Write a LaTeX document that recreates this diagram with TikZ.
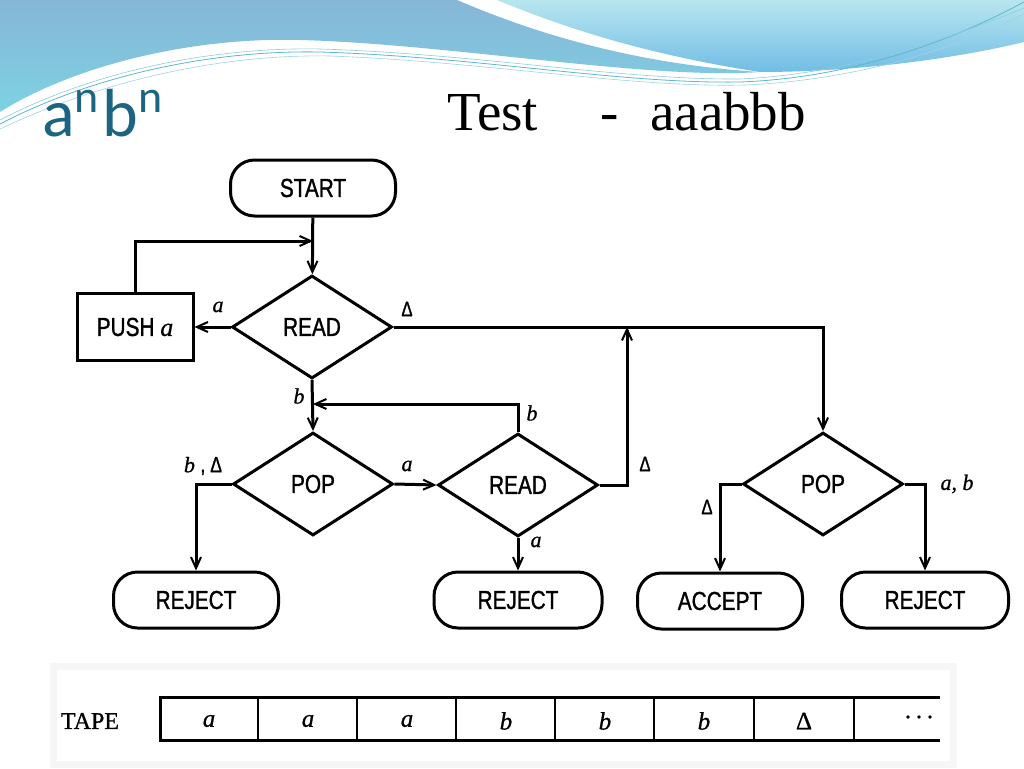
\documentclass[tikz,border=0pt]{standalone}
\usepackage{fontspec}
\setmainfont{Liberation Serif}
\newfontfamily\narrowsans[FakeStretch=0.8,FakeBold=1.2]{Liberation Sans}
\newfontfamily\boldserif[FakeBold=0.8]{Liberation Serif}
\newfontfamily\titlesans{Carlito}
\usetikzlibrary{shapes.geometric,arrows.meta}
\definecolor{wblue}{HTML}{86B6D6}
\definecolor{wcyan}{HTML}{7ED2E3}
\definecolor{wlight}{HTML}{B8E6EE}
\definecolor{wline}{HTML}{5CB8CC}
\definecolor{titleblue}{HTML}{1B6482}
\tikzset{
  flow/.style={line width=3pt},
  arr/.style={flow, -{Straight Barb[length=11pt,width=10pt,line width=2pt]}},
  term/.style={draw, flow, rounded corners=24pt, minimum width=165pt, minimum height=56pt, inner sep=0pt, font=\narrowsans\fontsize{26}{26}\selectfont},
  dec/.style={draw, flow, diamond, minimum width=160pt, minimum height=103pt, inner sep=0pt, font=\narrowsans\fontsize{26}{26}\selectfont},
  proc/.style={draw, flow, minimum width=116pt, minimum height=67pt, inner sep=0pt, font=\narrowsans\fontsize{26}{26}\selectfont},
  lbl/.style={font=\boldserif\fontsize{22}{22}\selectfont\itshape, inner sep=0pt},
  dlbl/.style={font=\narrowsans\fontsize{21}{21}\selectfont, inner sep=0pt},
  tapetxt/.style={font=\boldserif\fontsize{25}{25}\selectfont\itshape, inner sep=0pt}
}
\begin{document}
\begin{tikzpicture}[x=1pt,y=-1pt]
\useasboundingbox (0,0) rectangle (1024,768);
\fill[white] (0,0) rectangle (1024,768);
% header wave
\shade[top color=wblue, bottom color=wcyan]
  (0,0) -- (457,0) .. controls (550,40) and (650,65) .. (760,72)
  .. controls (650,80) and (450,44) .. (300,40)
  .. controls (200,37) and (80,62) .. (0,112) -- cycle;
\shade[top color=wlight, bottom color=wcyan!90!blue]
  (497,0) -- (1024,0) -- (1024,42) .. controls (950,60) and (850,72) .. (760,72)
  .. controls (650,55) and (570,30) .. (497,0) -- cycle;
\draw[wline, line width=0.8pt] (0,124) .. controls (100,72) and (220,50) .. (320,52)
  .. controls (480,57) and (620,84) .. (740,82) .. controls (850,78) and (950,42) .. (1024,2);
\draw[wline!70, line width=0.6pt] (0,120) .. controls (100,68) and (220,47) .. (320,49)
  .. controls (480,54) and (620,80) .. (740,79) .. controls (850,74) and (950,38) .. (1024,8);
\draw[wline!60, line width=0.6pt] (0,129) .. controls (110,77) and (230,54) .. (330,56)
  .. controls (490,62) and (630,88) .. (745,85) .. controls (860,80) and (960,47) .. (1024,14);
% titles
\node[anchor=base west, inner sep=0pt, text=titleblue, font=\titlesans\fontsize{68}{68}\selectfont] (title) at (42,136)
  {a\raisebox{24pt}{\fontsize{46}{46}\selectfont n}\hspace{4pt}b\raisebox{24pt}{\fontsize{46}{46}\selectfont n}};
\node[anchor=base west, inner sep=0pt, font=\fontsize{55}{55}\selectfont] (test) at (447,130) {Test};
\node[anchor=base west, inner sep=0pt, font=\fontsize{55}{55}\selectfont] (dash) at (600,130) {-};
\node[anchor=base west, inner sep=0pt, font=\fontsize{55}{55}\selectfont] (word) at (650,130) {aaabbb};
% flowchart nodes
\node[term] (start) at (313,188) {START};
\node[dec] (read1) at (312,327) {READ};
\node[proc] (push) at (135,327) {PUSH {\boldserif\itshape a}};
\node[dec] (pop1) at (313,484) {POP};
\node[dec] (read2) at (518,485) {READ};
\node[dec] (pop2) at (823,484) {POP};
\node[term] (rej1) at (196,600) {REJECT};
\node[term, minimum width=168pt] (rej2) at (518,600) {REJECT};
\node[term] (acc) at (720,601) {ACCEPT};
\node[term, minimum width=167pt] (rej3) at (925,600) {REJECT};
\coordinate (j1) at (313,241);
\coordinate (j2) at (627,327);
\coordinate (j3) at (313,404);
% connectors
\draw[arr] (start) -- (read1);
\draw[arr] (push.north) |- (j1);
\draw[arr] (read1.west) -- (push.east);
\draw[arr] (read1.south) -- (pop1.north);
\draw[arr] (read1.east) -| (pop2.north);
\draw[arr] (read2.east) -| (j2);
\draw[arr] (read2.north) |- (j3);
\draw[arr] (pop1.east) -- (read2.west);
\draw[arr] (pop1.west) -| (rej1.north);
\draw[arr] (read2.south) -- (rej2.north);
\draw[arr] (pop2.west) -| (acc.north);
\draw[arr] (pop2.east) -| (rej3.north);
% labels
\node[lbl] (la1) at (218,307) {a};
\node[dlbl] (ld1) at (407,309) {Δ};
\node[lbl] (lb1) at (299,396) {b};
\node[lbl] (lb2) at (532,413) {b};
\node[lbl] (lbd) at (203,466) {b \upshape{\narrowsans ,\ Δ}};
\node[lbl] (la2) at (407,466) {a};
\node[dlbl] (ld2) at (645,464) {Δ};
\node[lbl] (la3) at (536,542) {a};
\node[dlbl] (ld3) at (707,507) {Δ};
\node[lbl] (lab) at (957,484) {a, b};
% tape
\fill[gray!7] (50,663) rectangle (957,768);
\fill[white] (57,670) rectangle (950,761);
\node[inner sep=0pt, font=\boldserif\fontsize{24}{24}\selectfont] (tape) at (90,721) {TAPE};
\draw[flow] (940,697) -- (160,697) -- (160,740) -- (940,740);
\foreach \x in {258,357,456,555,654,754,854} \draw[line width=2.4pt] (\x,697) -- (\x,740);
\node[tapetxt] (c1) at (209,721) {a};
\node[tapetxt] (c2) at (308,721) {a};
\node[tapetxt] (c3) at (407,721) {a};
\node[tapetxt] (c4) at (506,721) {b};
\node[tapetxt] (c5) at (605,721) {b};
\node[tapetxt] (c6) at (704,721) {b};
\node[inner sep=0pt, font=\boldserif\fontsize{25}{25}\selectfont] (c7) at (804,721) {Δ};
\node[inner sep=0pt, font=\boldserif\fontsize{24}{24}\selectfont] (c8) at (919,717) {.\hspace{5pt}.\hspace{5pt}.};
\end{tikzpicture}
\end{document}
